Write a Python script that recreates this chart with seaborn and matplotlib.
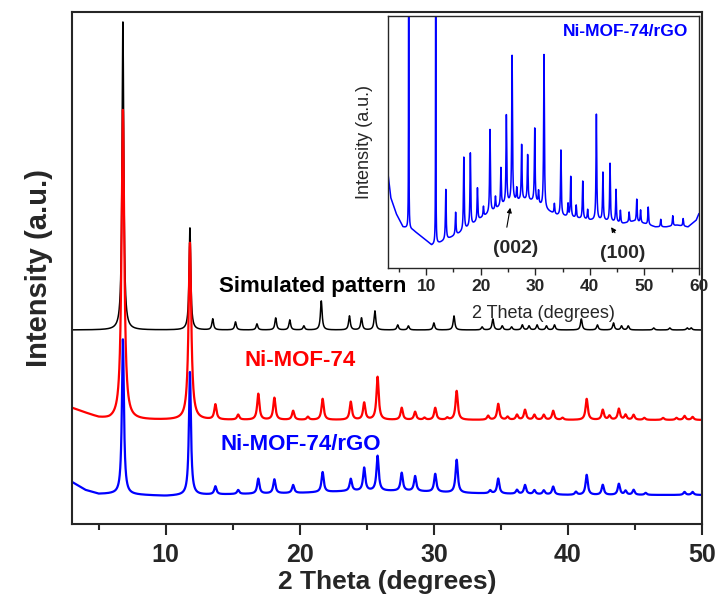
import numpy as np
import pandas as pd
import matplotlib
matplotlib.use("Agg")
import matplotlib.pyplot as plt
from matplotlib.ticker import MultipleLocator
import seaborn as sns

# ---- data (2theta in degrees, intensity in a.u.) ----
# simulated Ni-MOF-74 pattern
sim_pos = [6.8, 11.8, 13.5, 15.2, 16.8, 18.2, 19.25, 20.3, 21.6, 23.7, 24.6, 25.6,
           27.3, 28.1, 30.0, 31.5, 33.6, 34.4, 35.1, 35.8, 36.6, 37.1, 37.7, 38.4,
           39.0, 41.0, 42.2, 43.4, 44.0, 44.5, 46.4, 47.6, 48.9, 49.2]
sim_height = [308, 102, 11, 8, 6, 12, 10, 4, 29, 14, 12, 19,
              5, 4, 7, 14, 3, 11, 4, 3, 5, 4, 5, 4,
              5, 11, 5, 7, 4, 4, 2, 2, 2, 2]
sim_bg_x = [3, 50]
sim_bg_y = [194, 194]

# as-synthesised Ni-MOF-74
mof_pos = [6.8, 11.8, 13.7, 15.4, 16.9, 18.1, 19.5, 20.6, 21.7, 23.8, 24.8, 25.8,
           27.6, 28.6, 29.3, 30.1, 31.0, 31.7, 34.05, 34.8, 35.5, 36.2, 36.8, 37.5,
           38.2, 38.9, 39.6, 41.4, 42.6, 43.1, 43.8, 44.3, 44.9, 45.7, 47.1, 48.1,
           48.7, 49.3]
mof_height = [310, 177, 15, 5, 26, 22, 9, 3, 21, 18, 17, 43,
              12, 8, 2, 12, 2, 29, 4, 16, 3, 5, 10, 5,
              5, 9, 2, 21, 10, 4, 11, 5, 5, 2, 2, 2,
              4, 3]
mof_bg_x = [3, 4, 5, 5.8, 8, 10, 50]
mof_bg_y = [116, 111, 106, 104, 104, 104, 104]

# Ni-MOF-74/rGO composite
rgo_pos = [6.8, 11.8, 13.7, 15.4, 16.9, 18.1, 19.5, 21.7, 23.8, 24.8, 25.8, 27.6,
           28.6, 30.1, 31.7, 34.2, 34.8, 36.2, 36.8, 37.5, 38.2, 38.9, 40.6, 41.4,
           42.6, 43.8, 44.3, 44.9, 45.8, 48.7, 49.3]
rgo_height = [155, 123, 8, 4, 15, 14, 8, 20, 12, 23, 35, 18,
              15, 18, 33, 3, 15, 4, 9, 4, 4, 8, 3, 20,
              10, 11, 4, 5, 2, 3, 3]
rgo_bg_x = [3, 4, 5, 6, 8, 10, 12, 16, 20, 24, 28, 32, 36, 40, 50]
rgo_bg_y = [42, 34, 30, 30, 29, 28, 29, 30, 31, 33, 33, 31, 30, 29, 29]

# inset: full-range scan of the composite (fraction of inset height)
ins_pos = [6.8, 11.75, 13.6, 15.4, 16.9, 18.1, 19.4, 20.5, 21.7, 22.7, 23.7, 24.7,
           25.75, 26.6, 27.5, 28.6, 29.9, 30.6, 31.6, 33.5, 34.7, 36.0, 36.5, 37.5,
           38.7, 39.6, 41.2, 42.4, 43.7, 44.8, 45.6, 47.2, 48.6, 49.3, 50.7, 53.0,
           55.2, 57.1]
ins_height = [1.5, 1.5, 0.20, 0.09, 0.29, 0.29, 0.13, 0.04, 0.33, 0.05, 0.15, 0.35,
              0.58, 0.05, 0.22, 0.18, 0.29, 0.05, 0.61, 0.04, 0.26, 0.05, 0.16, 0.05,
              0.15, 0.04, 0.42, 0.19, 0.23, 0.13, 0.05, 0.04, 0.09, 0.05, 0.07, 0.03,
              0.04, 0.03]
ins_bg_x = [3, 3.5, 4.5, 5.75, 7.6, 8.8, 10, 11, 12.5, 14, 16, 18, 20, 22, 24, 26,
            28, 30, 32, 34, 36, 38, 40, 42, 44, 46, 48, 50, 52, 54, 56, 58, 59.5, 60]
ins_bg_y = [0.375, 0.28, 0.216, 0.163, 0.15, 0.13, 0.11, 0.09, 0.10, 0.115, 0.136,
            0.163, 0.196, 0.222, 0.249, 0.262, 0.269, 0.262, 0.229, 0.209, 0.203,
            0.196, 0.189, 0.189, 0.183, 0.176, 0.185, 0.176, 0.163, 0.163, 0.17,
            0.163, 0.19, 0.216]

BLUE = "#0000ff"
RED = "#ff0000"


def pattern(x, pos, height, bg_x, bg_y, fwhm, main_fwhm, big=100):
    """Lorentzian peaks on top of a piecewise background."""
    y = np.interp(x, bg_x, bg_y).astype(float)
    for p, h in zip(pos, height):
        w = main_fwhm if h > big else fwhm
        g = (w / 2) ** 2
        y += h * g / ((x - p) ** 2 + g)
    return y


x_main = np.arange(3, 50.001, 0.01)
df_main = pd.DataFrame({
    "two_theta": x_main,
    "sim": pattern(x_main, sim_pos, sim_height, sim_bg_x, sim_bg_y, 0.15, 0.15),
    "mof": pattern(x_main, mof_pos, mof_height, mof_bg_x, mof_bg_y, 0.2, 0.24),
    "rgo": pattern(x_main, rgo_pos, rgo_height, rgo_bg_x, rgo_bg_y, 0.2, 0.18),
})
x_ins = np.arange(3, 60.001, 0.01)
df_ins = pd.DataFrame({
    "two_theta": x_ins,
    "rgo": pattern(x_ins, ins_pos, ins_height, ins_bg_x, ins_bg_y, 0.16, 0.06, big=1),
})

sns.set_style("ticks")
plt.rcParams["font.family"] = ["Liberation Sans", "DejaVu Sans"]
plt.rcParams["axes.linewidth"] = 1.5

fig = plt.figure(figsize=(7.19, 6.02), dpi=100)
ax = fig.add_axes([0.1001, 0.1296, 0.8762, 0.8505])

# draw order matters: red covers black, blue covers red
sns.lineplot(data=df_main, x="two_theta", y="sim", ax=ax, color="black", lw=1.1,
             estimator=None, sort=False)
sns.lineplot(data=df_main, x="two_theta", y="mof", ax=ax, color=RED, lw=1.6,
             estimator=None, sort=False)
sns.lineplot(data=df_main, x="two_theta", y="rgo", ax=ax, color=BLUE, lw=1.6,
             estimator=None, sort=False)

ax.set_xlim(3, 50)
ax.set_ylim(0, 512)
ax.set_yticks([])
ax.xaxis.set_major_locator(MultipleLocator(10))
ax.xaxis.set_minor_locator(MultipleLocator(5))
ax.tick_params(axis="x", which="major", direction="out", length=8, width=1.5,
               labelsize=18, pad=6)
ax.tick_params(axis="x", which="minor", direction="out", length=4, width=1.5)
for lab in ax.get_xticklabels():
    lab.set_fontweight("bold")
ax.set_xlabel("2 Theta (degrees)", fontsize=19, fontweight="bold", labelpad=2)
ax.set_ylabel("Intensity (a.u.)", fontsize=21, fontweight="bold", labelpad=14)
for sp in ax.spines.values():
    sp.set_visible(True)
    sp.set_linewidth(1.5)

ax.text(0.3825, 0.463, "Simulated pattern", transform=ax.transAxes, ha="center",
        va="center", fontsize=16, fontweight="bold", color="black")
ax.text(0.362, 0.320, "Ni-MOF-74", transform=ax.transAxes, ha="center",
        va="center", fontsize=16, fontweight="bold", color=RED)
ax.text(0.3635, 0.156, "Ni-MOF-74/rGO", transform=ax.transAxes, ha="center",
        va="center", fontsize=16, fontweight="bold", color=BLUE)

# ---- inset ----
axin = fig.add_axes([0.5396, 0.5548, 0.4325, 0.4186])
sns.lineplot(data=df_ins, x="two_theta", y="rgo", ax=axin, color=BLUE, lw=1.1,
             estimator=None, sort=False)
axin.set_xlim(3, 60)
axin.set_ylim(0, 1)
axin.set_yticks([])
axin.xaxis.set_major_locator(MultipleLocator(10))
axin.xaxis.set_minor_locator(MultipleLocator(5))
axin.tick_params(axis="x", which="major", direction="out", length=5, width=1,
                 labelsize=12.5, pad=3)
axin.tick_params(axis="x", which="minor", direction="out", length=3, width=1)
for lab in axin.get_xticklabels():
    lab.set_fontweight("bold")
for sp in axin.spines.values():
    sp.set_visible(True)
    sp.set_linewidth(1.0)
axin.set_xlabel("2 Theta (degrees)", fontsize=13, labelpad=8)
axin.set_ylabel("Intensity (a.u.)", fontsize=13, labelpad=11)

axin.text(0.965, 0.937, "Ni-MOF-74/rGO", transform=axin.transAxes, ha="right",
          va="center", fontsize=12.5, fontweight="bold", color=BLUE)
axin.text(0.41, 0.079, "(002)", transform=axin.transAxes, ha="center",
          va="center", fontsize=14, fontweight="bold")
axin.text(0.7556, 0.0595, "(100)", transform=axin.transAxes, ha="center",
          va="center", fontsize=14, fontweight="bold")
axin.annotate("", xy=(25.5, 0.25), xytext=(24.7, 0.151),
              arrowprops=dict(arrowstyle="-|>", color="black", lw=0.8,
                              mutation_scale=7))
axin.annotate("", xy=(43.6, 0.171), xytext=(44.9, 0.131),
              arrowprops=dict(arrowstyle="-|>", color="black", lw=0.8,
                              mutation_scale=7))

fig.savefig("out.png", dpi=100)
